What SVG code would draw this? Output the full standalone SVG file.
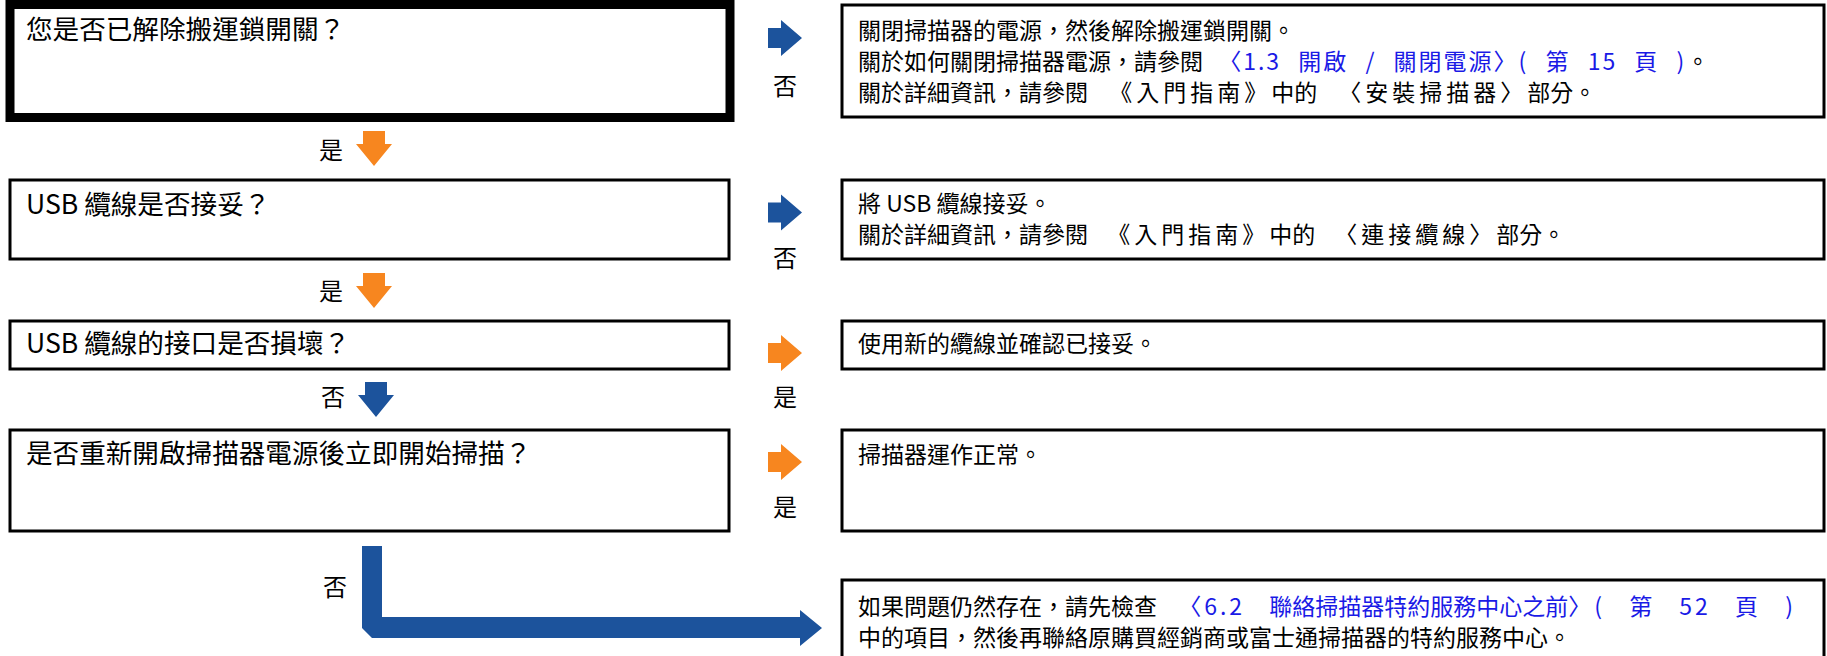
<svg xmlns="http://www.w3.org/2000/svg" width="1827" height="656" viewBox="0 0 1827 656">
<style>
.box{fill:#fff;stroke:#000;stroke-width:3}
.thick{fill:#fff;stroke:#000;stroke-width:9}
.q{font-family:"Noto Sans CJK TC","Noto Sans",sans-serif;font-size:26.6px;fill:#000}
.t{font-family:"Noto Sans CJK TC","Noto Sans",sans-serif;font-size:23px;fill:#000}
.lbl{font-family:"Noto Sans CJK TC","Noto Sans",sans-serif;font-size:24px;fill:#000;text-anchor:middle}
.lnk{fill:#1a1ae6}
.sp4{letter-spacing:4px}
.sp3{letter-spacing:3px}
.sp2{letter-spacing:2px}
.blue{fill:#1c539c}
.orange{fill:#f7861f}
</style>
<defs>
<path id="ra" d="M0,-10 H13 V-18 L34,0 L13,18 V10 H0 Z"/>
<path id="da" d="M-11,0 H11 V13 H18 L0,35 L-18,13 H-11 Z"/>
</defs>
<rect width="1827" height="656" fill="#fff"/>

<g id="q1">
<rect class="thick" x="10" y="4.5" width="720" height="113"/>
<text class="q" x="26" y="39">您是否已解除搬運鎖開關？</text>
</g>
<g id="a1">
<rect class="box" x="842" y="5" width="982" height="112"/>
<text class="t" x="858" y="38.7">關閉掃描器的電源，然後解除搬運鎖開關。</text>
<text class="t" x="858" y="69.7" xml:space="preserve" word-spacing="10">關於如何關閉掃描器電源，請參閱 <tspan class="lnk sp2">〈1.3 開啟 / 關閉電源〉( 第 15 頁 )</tspan>。</text>
<text class="t" x="858" y="100.7" xml:space="preserve" word-spacing="16">關於詳細資訊，請參閱 <tspan class="sp4">《入門指南》</tspan>中的 <tspan class="sp4">〈安裝掃描器〉</tspan>部分。</text>
</g>
<g id="q2">
<rect class="box" x="10" y="180" width="719" height="79"/>
<text class="q" x="26" y="213.5">USB 纜線是否接妥？</text>
</g>
<g id="a2">
<rect class="box" x="842" y="180" width="982" height="79"/>
<text class="t" x="858" y="211.7">將 USB 纜線接妥。</text>
<text class="t" x="858" y="242.7" xml:space="preserve" word-spacing="14">關於詳細資訊，請參閱 <tspan class="sp4">《入門指南》</tspan>中的 <tspan class="sp4">〈連接纜線〉</tspan>部分。</text>
</g>
<g id="q3">
<rect class="box" x="10" y="321" width="719" height="48"/>
<text class="q" x="26" y="353">USB 纜線的接口是否損壞？</text>
</g>
<g id="a3">
<rect class="box" x="842" y="321" width="982" height="48"/>
<text class="t" x="858" y="351.7">使用新的纜線並確認已接妥。</text>
</g>
<g id="q4">
<rect class="box" x="10" y="430" width="719" height="101"/>
<text class="q" x="26" y="462.5">是否重新開啟掃描器電源後立即開始掃描？</text>
</g>
<g id="a4">
<rect class="box" x="842" y="430" width="982" height="101"/>
<text class="t" x="858" y="462.7">掃描器運作正常。</text>
</g>
<g id="a5">
<rect class="box" x="842" y="580" width="982" height="100"/>
<text class="t" x="858" y="614.7" xml:space="preserve" word-spacing="16">如果問題仍然存在，請先檢查 <tspan class="lnk"><tspan class="sp3">〈6.2 </tspan>聯絡掃描器特約服務中心之前<tspan class="sp3">〉( 第 52 頁 )</tspan></tspan></text>
<text class="t" x="858" y="645.7">中的項目，然後再聯絡原購買經銷商或富士通掃描器的特約服務中心。</text>
</g>

<g id="connectors">
<use href="#ra" class="blue" x="768" y="38"/>
<use href="#ra" class="blue" x="768" y="212.5"/>
<use href="#ra" class="orange" x="768" y="353"/>
<use href="#ra" class="orange" x="768" y="462"/>
<use href="#da" class="orange" x="374" y="131"/>
<use href="#da" class="orange" x="374" y="273"/>
<use href="#da" class="blue" x="376" y="382"/>
<path class="blue" d="M362,546 H382 V617 H800 V610 L822,628 L800,646 V638 H372 L362,628 Z"/>
<text class="lbl" x="785" y="95">否</text>
<text class="lbl" x="785" y="267">否</text>
<text class="lbl" x="785" y="406">是</text>
<text class="lbl" x="785" y="516">是</text>
<text class="lbl" x="331" y="159">是</text>
<text class="lbl" x="331" y="299.5">是</text>
<text class="lbl" x="333" y="405.5">否</text>
<text class="lbl" x="335" y="595.5">否</text>
</g>
</svg>
